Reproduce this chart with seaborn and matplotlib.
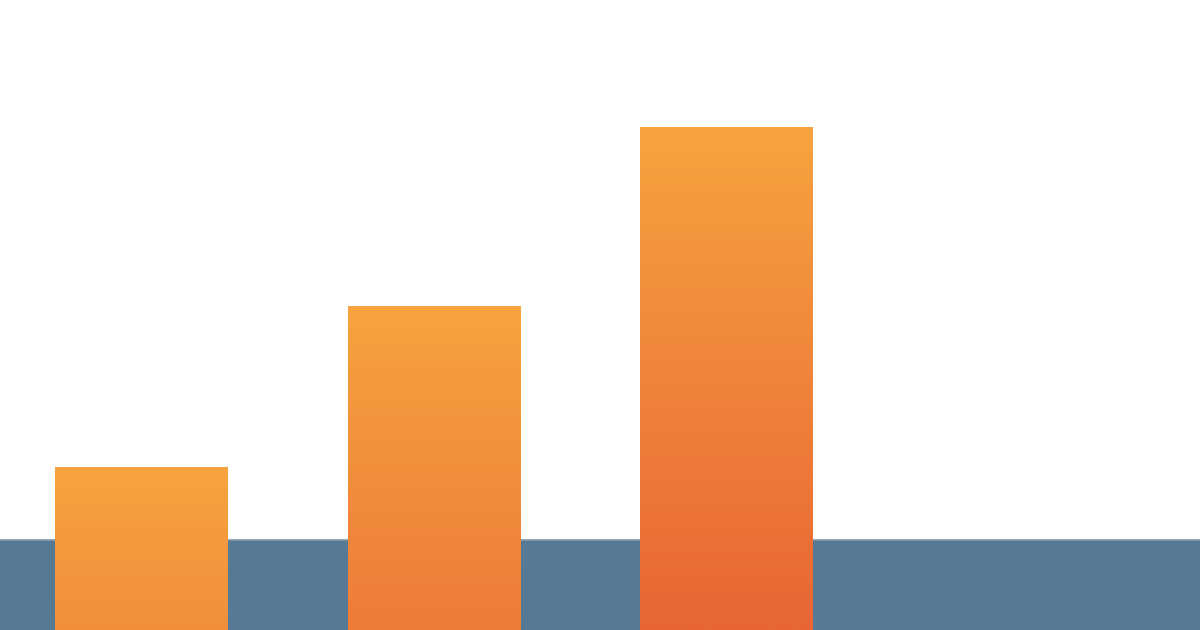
import numpy as np
import pandas as pd
import seaborn as sns
import matplotlib.pyplot as plt
from matplotlib.colors import to_rgb

# values (axis units, bottom of figure = 0)
categories = ['A', 'B', 'C']
values = [16.3, 32.4, 50.3]
band_level = 9.0

top_color = '#F7A33F'
bottom_color = '#E86535'
band_color = '#567A93'

df = pd.DataFrame({'cat': categories, 'val': values})

sns.set_theme(style='white')
fig = plt.figure(figsize=(12, 6.3), dpi=100)
ax = fig.add_axes([0, 0, 1, 1])
fig.patch.set_facecolor('white')

sns.barplot(data=df, x='cat', y='val', color=top_color, width=0.59,
            ax=ax, zorder=3, linewidth=0)
bars = list(ax.patches)

# blue-grey band at the bottom
ax.axhspan(0, band_level, color=band_color, zorder=1, lw=0)
ax.axhline(band_level, color='#8399A9', lw=1.2, zorder=1.5)

# vertical gradient for each bar, darker the further from its top
c_top = np.array(to_rgb(top_color))
c_bot = np.array(to_rgb(bottom_color))
hmax = max(values)
for patch in bars:
    x0, y0 = patch.get_x(), patch.get_y()
    w, h = patch.get_width(), patch.get_height()
    t = np.linspace(0, h / hmax, 256)[:, None]
    grad = c_top + (c_bot - c_top) * t
    grad = grad[:, None, :].repeat(2, axis=1)
    im = ax.imshow(grad, extent=(x0, x0 + w, y0, y0 + h), origin='upper',
                   aspect='auto', zorder=4, interpolation='bilinear')
    im.set_clip_path(patch)

ax.set_ylim(0, 63)
ax.set_xlim(-0.484, 3.619)
ax.set_axis_off()

fig.savefig('out.png', dpi=100)
